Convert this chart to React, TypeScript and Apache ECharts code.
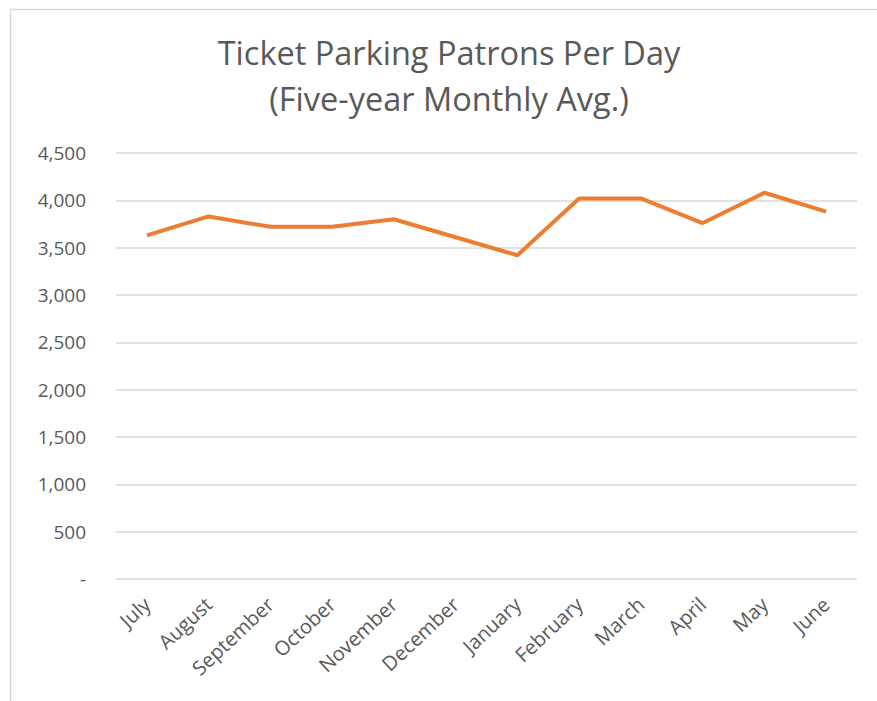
import React, { useEffect, useRef } from "react";
import * as echarts from "echarts";

const months = ["July", "August", "September", "October", "November", "December", "January", "February", "March", "April", "May", "June"];
const patrons = [3630, 3830, 3720, 3720, 3800, 3610, 3420, 4020, 4020, 3760, 4080, 3880];
const titleLines = ["Ticket Parking Patrons Per Day", "(Five-year Monthly Avg.)"];

export default function App() {
  const ref = useRef<HTMLDivElement>(null);
  useEffect(() => {
    const chart = echarts.init(ref.current!, undefined, { renderer: "svg" });
    chart.setOption({
      animation: false,
      backgroundColor: "#ffffff",
      title: {
        text: titleLines.join("\n"),
        left: 444,
        textAlign: "center",
        top: 24,
        textStyle: { fontFamily: "Open Sans", fontSize: 32.5, fontWeight: "normal", color: "#595959", lineHeight: 46 },
      },
      graphic: [
        {
          type: "rect",
          shape: { x: 10.5, y: 9.5, width: 900, height: 800 },
          style: { fill: "none", stroke: "#d9d9d9", lineWidth: 1.5 },
          silent: true,
        },
      ],
      grid: { left: 116, right: 20, top: 153, bottom: 122 },
      xAxis: {
        type: "category",
        data: months,
        boundaryGap: true,
        axisLine: { show: false },
        axisTick: { show: false },
        axisLabel: { rotate: 43, margin: 22, fontFamily: "Open Sans", fontSize: 20, color: "#595959", interval: 0 },
      },
      yAxis: {
        type: "value",
        min: 0,
        max: 4500,
        interval: 500,
        axisLine: { show: false },
        axisTick: { show: false },
        splitLine: { lineStyle: { color: "#d9d9d9", width: 1.5 } },
        axisLabel: {
          margin: 30,
          fontFamily: "Open Sans",
          fontSize: 19,
          color: "#595959",
          formatter: (v: number) => (v === 0 ? "-" : v.toLocaleString("en-US")),
        },
      },
      series: [
        {
          type: "line",
          data: patrons,
          symbol: "none",
          lineStyle: { color: "#ED7D31", width: 4 },
        },
      ],
    });
    return () => chart.dispose();
  }, []);
  return <div ref={ref} style={{ position: "fixed", left: 0, top: 0, width: 877, height: 701 }} />;
}
